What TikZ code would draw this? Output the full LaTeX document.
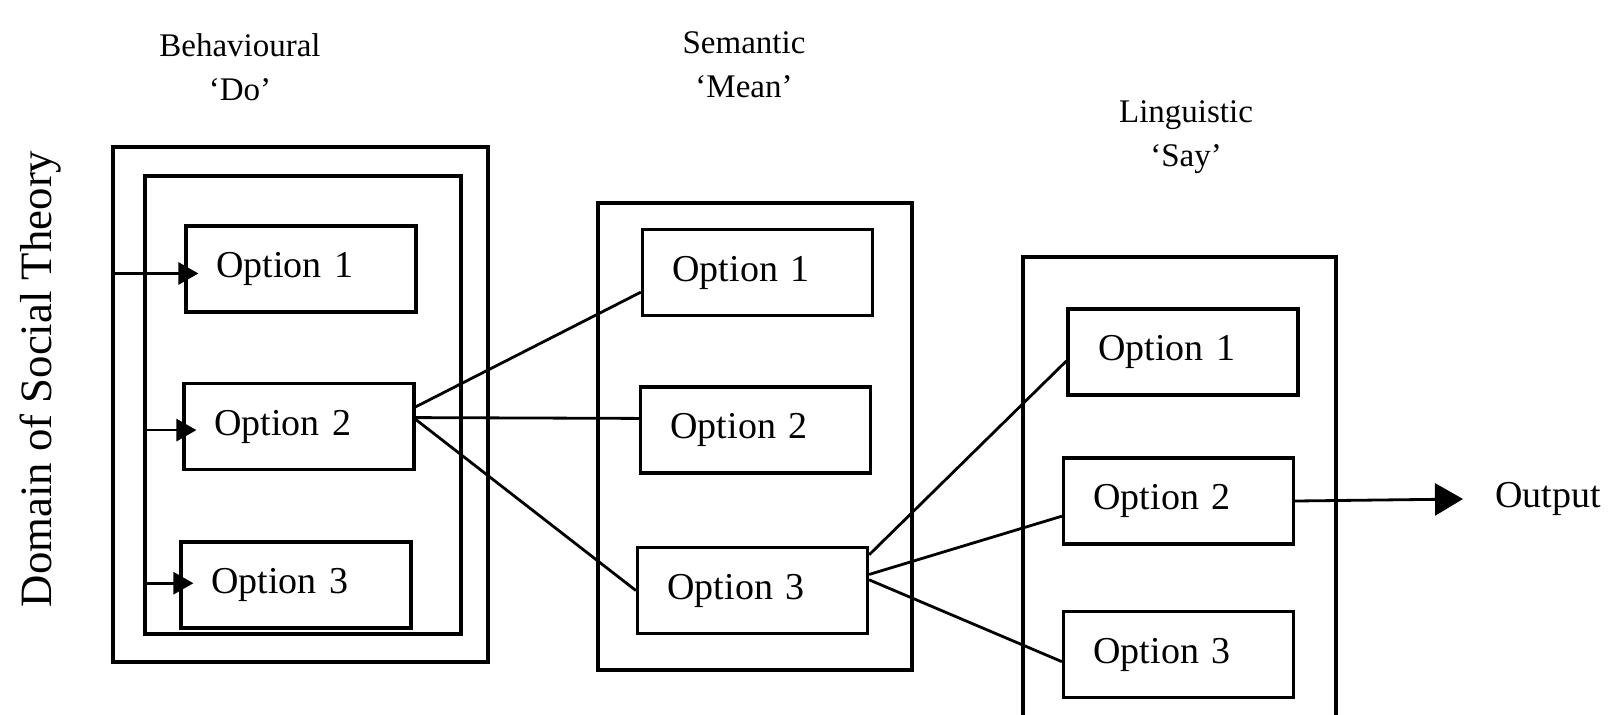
\documentclass[tikz,border=0pt]{standalone}
\usepackage{fontspec}
\setmainfont{Liberation Serif}
\usetikzlibrary{arrows.meta,calc}
\begin{document}
\begin{tikzpicture}[x=0.5pt,y=-0.5pt,
  frame/.style={draw, line width=1.6pt, inner sep=0pt},
  option/.style={draw, line width=1.6pt, minimum height=43pt, text width=85pt,
    inner xsep=15pt, inner ysep=0pt, align=left, font=\fontsize{19}{22}\selectfont},
  link/.style={line width=1.4pt},
  feed/.style={line width=1.4pt, -{Triangle[length=10pt,width=11pt]}},
  heading/.style={align=center, font=\fontsize{16.5}{22}\selectfont, inner sep=0pt, anchor=base},
]
\useasboundingbox (0,0) rectangle (1612,714);

% side label
\node[rotate=90, anchor=base, inner sep=0pt, font=\fontsize{22.4}{26}\selectfont] (dom) at (51,379) {Domain of Social Theory};

% column headings (anchored on the baseline of their second line)
\node[heading] (hb) at (240,100) {Behavioural\\‘Do’};
\node[heading] (hs) at (744,97) {Semantic\\‘Mean’};
\node[heading] (hl) at (1186,166) {Linguistic\\‘Say’};

% group frames
\node[frame, minimum width=187.5pt, minimum height=257.5pt] (bout) at (300.5,404.5) {};
\node[frame, minimum width=158pt, minimum height=229pt] (bin) at (303,405) {};
\node[frame, minimum width=157pt, minimum height=233.5pt] (sbox) at (755,436.5) {};
\draw[line width=1.6pt] (1023,730) |- (1336,257) -- (1336,730);

% options
\node[option] (b1) at (301,269) {Option 1};
\node[option] (b2) at (299,426.5) {Option 2};
\node[option] (b3) at (296,585) {Option 3};
\node[option] (s1) at (757.5,272.5) {Option 1};
\node[option] (s2) at (755.5,430) {Option 2};
\node[option] (s3) at (752.5,590.5) {Option 3};
\node[option] (l1) at (1183,352) {Option 1};
\node[option] (l2) at (1178.5,501) {Option 2};
\node[option] (l3) at (1178.5,654.5) {Option 3};

% inputs into the behavioural options
\coordinate (b1in) at ($(b1.north west)!0.55!(b1.south west)$);
\coordinate (b2in) at ($(b2.north west)!0.54!(b2.south west)$);
\coordinate (b3in) at ($(b3.north west)!0.48!(b3.south west)$);
\draw[feed] (bout.west |- b1in) -- ([xshift=7pt]b1in);
\draw[feed] (bin.west |- b2in) -- ([xshift=7pt]b2in);
\draw[feed] (bin.west |- b3in) -- ([xshift=7pt]b3in);

% links between the levels
\draw[link] ($(b2.north east)!0.28!(b2.south east)$) -- ($(s1.north west)!0.72!(s1.south west)$);
\draw[link] ($(b2.north east)!0.40!(b2.south east)$) -- ($(s2.north west)!0.37!(s2.south west)$);
\draw[link] ($(b2.north east)!0.42!(b2.south east)$) -- (s3.west);
\draw[link] ($(s3.north east)!0.10!(s3.south east)$) -- ($(l1.north west)!0.60!(l1.south west)$);
\draw[link] ($(s3.north east)!0.32!(s3.south east)$) -- ($(l2.north west)!0.67!(l2.south west)$);
\draw[link] ($(s3.north east)!0.38!(s3.south east)$) -- ($(l3.north west)!0.58!(l3.south west)$);

% output
\node[anchor=west, inner sep=0pt, font=\fontsize{19}{22}\selectfont] (out) at (1495,499) {Output};
\draw[line width=1.4pt, -{Triangle[length=14pt,width=16pt]}] (l2.east) -- ([xshift=-16pt]out.west);
\end{tikzpicture}
\end{document}
